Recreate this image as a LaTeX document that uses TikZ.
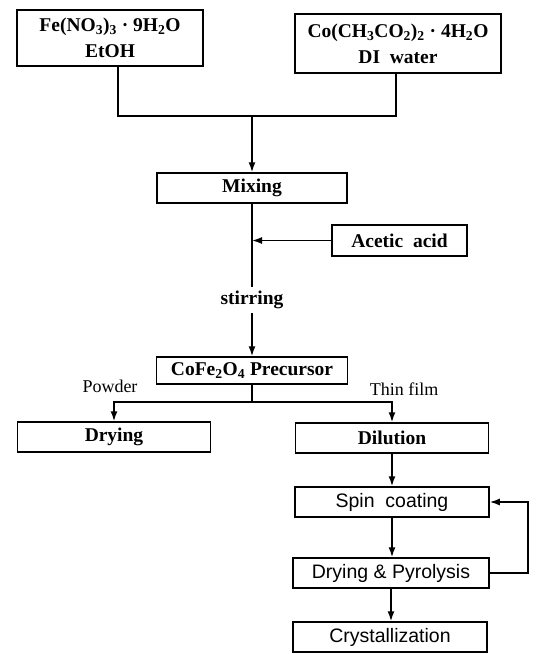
\documentclass[tikz,border=0pt]{standalone}
\usepackage{fontspec}
\setmainfont{Liberation Serif}
\newfontfamily\sansfam{Liberation Sans}
\usepackage{tikz}
\usetikzlibrary{arrows.meta}
\usetikzlibrary{positioning}
\tikzstyle{procbox} = [draw, line width=1.5pt, minimum height=30pt, inner sep=2pt, font=\fontsize{19.5}{26}\selectfont\bfseries]
\tikzstyle{filmbox} = [procbox, font=\fontsize{19.5}{26}\selectfont\sansfam]
\tikzstyle{link} = [line width=1.5pt]
\tikzstyle{flow} = [link, -{Latex[length=10pt,width=7pt]}]
\tikzstyle{tag} = [font=\fontsize{18}{20}\selectfont]

\begin{document}
\begin{tikzpicture}[x=1pt, y=1pt]
    \useasboundingbox (0,0) rectangle (536,-654);

    % starting solutions
    \node[procbox, minimum width=186pt, minimum height=56pt, align=center] (fe) at (110,-38)
        {Fe(NO\textsubscript{3})\textsubscript{3} · 9H\textsubscript{2}O\\EtOH};
    \node[procbox, minimum width=206pt, minimum height=59pt, align=center] (co) at (398,-43.5)
        {Co(CH\textsubscript{3}CO\textsubscript{2})\textsubscript{2} · 4H\textsubscript{2}O\\DI~~water};
    \coordinate (join) at (252,-116);

    \node[procbox, minimum width=190pt] (mix) at (252,-188) {Mixing};
    \node[procbox, minimum width=135pt, minimum height=31pt] (acetic) at (399.5,-240.5) {Acetic~~acid};
    \node[tag, font=\fontsize{19.5}{22}\selectfont\bfseries, inner sep=4pt] (stir) at (252,-300) {stirring};
    \node[procbox, minimum width=191pt, minimum height=27pt] (prec) at (252,-370.5)
        {CoFe\textsubscript{2}O\textsubscript{4} Precursor};

    \draw[link] ([xshift=8pt]fe.south) |- (join) -| ([xshift=-2pt]co.south);
    \draw[flow] (join) -- (mix.north);
    \draw[link] (mix.south) -- (stir.north);
    \draw[flow] (acetic.west) -- (acetic.west -| mix.south);
    \draw[flow] (stir.south) -- (prec.north);

    % powder / thin film branches
    \coordinate (split) at (252,-402);
    \node[tag] (powder) at (110,-386) {Powder};
    \node[tag] (film) at (404,-389) {Thin film};
    \node[procbox, minimum width=193pt] (dry) at (114,-437) {Drying};
    \node[procbox, minimum width=193pt] (dil) at (392,-438) {Dilution};

    \draw[link] (prec.south) -- (split);
    \draw[flow] (split) -| (dry.north);
    \draw[flow] (split) -| (dil.north);

    % film processing
    \node[filmbox, minimum width=194pt] (spin) at (392,-502) {Spin~~coating};
    \node[filmbox, minimum width=196pt] (dp) at (391,-573) {Drying \& Pyrolysis};
    \node[filmbox, minimum width=194pt] (cry) at (390,-637) {Crystallization};
    \coordinate (loop) at (528,-540);

    \draw[flow] (dil.south) -- (dil.south |- spin.north);
    \draw[flow] (spin.south) -- (spin.south |- dp.north);
    \draw[flow] (dp.south) -- (dp.south |- cry.north);
    \draw[flow] (dp.east) -- (dp.east -| loop) |- (spin.east);
\end{tikzpicture}
\end{document}
